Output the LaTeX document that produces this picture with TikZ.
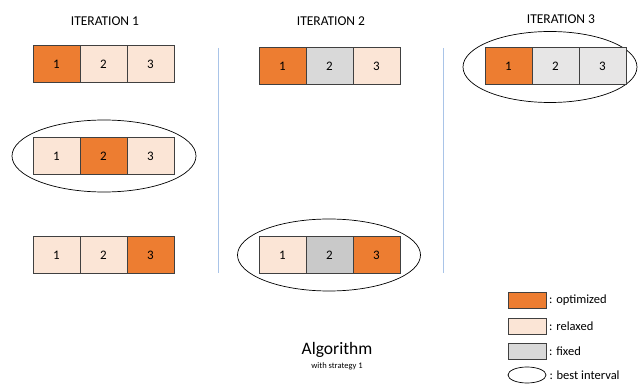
\documentclass[tikz,border=0pt]{standalone}
\usepackage{fontspec}
\setmainfont{Carlito}
\usetikzlibrary{positioning,shapes.geometric}
\definecolor{opt}{HTML}{ED7D31}
\definecolor{rel}{HTML}{FBE5D6}
\definecolor{fix}{HTML}{D9D9D9}
\definecolor{fixdark}{HTML}{C9C9C9}
\definecolor{fixlight}{HTML}{E7E6E6}
\definecolor{edge}{HTML}{404040}
\definecolor{sep}{HTML}{A9C4E8}
\begin{document}
\begin{tikzpicture}[x=1pt, y=-1pt, font=\fontsize{13}{15}\selectfont, node distance=0pt]
      \tikzstyle{cell}=[rectangle, draw=edge, line width=1pt, minimum width=47pt, minimum height=37pt, inner sep=0pt, outer sep=0pt]
      \tikzstyle{optimized}=[cell, fill=opt]
      \tikzstyle{relaxed}=[cell, fill=rel]
      \tikzstyle{fixed}=[cell, fill=fix]
      \tikzstyle{best}=[ellipse, draw, line width=0.7pt, inner sep=0pt]
      \tikzstyle{title}=[font=\fontsize{13.5}{15}\selectfont]
      \tikzstyle{legend}=[anchor=west, font=\fontsize{12.5}{14}\selectfont, inner sep=1pt]
      \useasboundingbox (0,0) rectangle (638,385);
      % iteration 1
      \node[title] (t1) at (105,21) {ITERATION 1};
      \node[best, minimum width=184pt, minimum height=72pt] (b1) at (104,156) {};
      \node[optimized] (a11) at (56.5,64.5) {1};
      \node[relaxed] (a12) [right=of a11] {2};
      \node[relaxed] (a13) [right=of a12] {3};
      \node[relaxed] (a21) at (56.5,156) {1};
      \node[optimized] (a22) [right=of a21] {2};
      \node[relaxed] (a23) [right=of a22] {3};
      \node[relaxed] (a31) at (56.5,255.5) {1};
      \node[relaxed] (a32) [right=of a31] {2};
      \node[optimized] (a33) [right=of a32] {3};
      % iteration 2
      \node[title] (t2) at (331,21) {ITERATION 2};
      \node[best, minimum width=183pt, minimum height=72pt] (b2) at (329,255) {};
      \node[optimized] (b11) at (282.5,66.5) {1};
      \node[fixed] (b12) [right=of b11] {2};
      \node[relaxed] (b13) [right=of b12] {3};
      \node[relaxed] (b31) at (282.5,255.5) {1};
      \node[fixed, fill=fixdark] (b32) [right=of b31] {2};
      \node[optimized] (b33) [right=of b32] {3};
      % iteration 3
      \node[title] (t3) at (561,19) {ITERATION 3};
      \node[best, minimum width=174pt, minimum height=71pt] (b3) at (550,67) {};
      \node[optimized] (c11) at (508.5,66.5) {1};
      \node[fixed, fill=fixlight] (c12) [right=of c11] {2};
      \node[fixed, fill=fixlight] (c13) [right=of c12] {3};
      % separators
      \coordinate (s1t) at (218,48);
      \coordinate (s1b) at (218,273);
      \coordinate (s2t) at (443,48);
      \coordinate (s2b) at (443,273);
      \draw[sep, line width=0.6pt] (s1t) -- (s1b);
      \draw[sep, line width=0.6pt] (s2t) -- (s2b);
      % legend
      \node[cell, fill=opt, minimum width=38pt, minimum height=16pt] (lo) at (527,300) {};
      \node[cell, fill=rel, minimum width=38pt, minimum height=16pt] (lr) at (527,326) {};
      \node[cell, fill=fix, minimum width=38pt, minimum height=16pt] (lf) at (527,351.5) {};
      \node[best, minimum width=38pt, minimum height=16pt] (lb) at (527,375) {};
      \node[legend] at ([xshift=2pt]lo.east) {: optimized};
      \node[legend] at ([xshift=2pt]lr.east) {: relaxed};
      \node[legend] at ([xshift=2pt]lf.east) {: fixed};
      \node[legend] at ([xshift=2pt]lb.east) {: best interval};
      % caption
      \node[font=\fontsize{17.5}{20}\selectfont] (alg) at (337,350) {Algorithm};
      \node[font=\fontsize{8.5}{10}\selectfont] (strat) at (337,366) {with strategy 1};
\end{tikzpicture}
\end{document}
